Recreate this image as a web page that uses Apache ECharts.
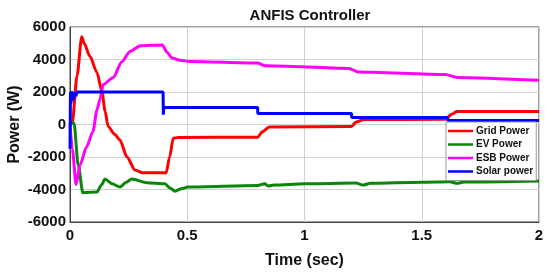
<!DOCTYPE html>
<html>
<head>
<meta charset="utf-8">
<script src="https://cdn.jsdelivr.net/npm/echarts@6/dist/echarts.min.js"></script>
<style>
  html, body { margin: 0; padding: 0; background: #fff; }
  #chart { width: 550px; height: 275px; }
</style>
</head>
<body>
<div id="chart"></div>
<script>
// [time (s), power (W)]
const gridPower = [
  [0, 0], [0.01, 150], [0.03, 3000], [0.05, 5400], [0.06, 5000], [0.085, 4200],
  [0.115, 3200], [0.136, 2050], [0.15, 800], [0.162, -100], [0.19, -600],
  [0.213, -950], [0.243, -2000], [0.277, -2800], [0.31, -2970], [0.41, -2970],
  [0.425, -2000], [0.44, -850], [0.46, -800], [0.8, -780], [0.82, -450],
  [0.85, -150], [1.2, -120], [1.22, 150], [1.25, 300], [1.6, 320],
  [1.63, 650], [1.65, 800], [2, 800]
];
const evPower = [
  [0, 0], [0.017, 100], [0.035, -2500], [0.055, -4200], [0.115, -4150],
  [0.135, -3700], [0.149, -3350], [0.18, -3650], [0.213, -3850], [0.24, -3550],
  [0.264, -3350], [0.328, -3580], [0.405, -3650], [0.425, -3900], [0.448, -4100],
  [0.475, -3950], [0.503, -3850], [0.8, -3750], [0.83, -3650], [0.845, -3780],
  [0.87, -3720], [1.0, -3650], [1.22, -3600], [1.25, -3730], [1.28, -3620],
  [1.5, -3550], [1.62, -3520], [1.65, -3620], [1.68, -3540], [2, -3470]
];
const esbPower = [
  [0, 0], [0.01, -1500], [0.026, -3700], [0.043, -2480], [0.07, -1400],
  [0.098, -430], [0.115, 900], [0.128, 1550], [0.141, 2450], [0.185, 2900],
  [0.22, 3850], [0.256, 4500], [0.3, 4850], [0.395, 4900], [0.4, 4750],
  [0.413, 4450], [0.435, 4100], [0.47, 3950], [0.51, 3880], [0.8, 3780],
  [0.83, 3620], [1.19, 3450], [1.23, 3230], [1.6, 3080], [1.65, 2900], [2, 2720]
];
const solarPower = [
  [0, -1500], [0.002, 2000], [0.004, 1300], [0.006, 2050], [0.009, 1450],
  [0.012, 1950], [0.016, 1550], [0.02, 2000], [0.025, 1750], [0.03, 2000],
  [0.397, 2000], [0.398, 600], [0.4, 1050], [0.8, 1050], [0.801, 680],
  [1.2, 680], [1.202, 430], [1.61, 430], [1.612, 250], [2, 250]
];
const seriesNames = ['Grid Power', 'EV Power', 'ESB Power', 'Solar power'];
const seriesColors = ['#ff0000', '#0a860a', '#ff00ff', '#0000ff'];
const xTicks = ['0', '0.5', '1', '1.5', '2'];

const chart = echarts.init(document.getElementById('chart'));
const font = 'Arial, "Liberation Sans", sans-serif';

chart.setOption({
  animation: false,
  title: {
    text: 'ANFIS Controller',
    left: 305, top: 3, textAlign: 'center',
    textStyle: { fontFamily: font, fontWeight: 'bold', fontSize: 15, color: '#111' }
  },
  grid: {
    left: 70, right: 11, top: 27, bottom: 53,
    outerBoundsMode: 'none',
    show: true, borderColor: '#444', borderWidth: 1
  },
  legend: {
    data: seriesNames,
    orient: 'vertical',
    left: 446, top: 122,
    backgroundColor: '#fff',
    borderColor: '#999', borderWidth: 1, borderRadius: 0,
    padding: [4, 3, 4, 2],
    itemGap: 3.5,
    itemWidth: 25, itemHeight: 11,
    icon: 'path://M0,5 L25,5 L25,7.5 L0,7.5 Z',
    textStyle: { fontFamily: font, fontWeight: 'bold', fontSize: 10, color: '#111', padding: [0, 0, 0, -2] }
  },
  xAxis: {
    type: 'value', min: 0, max: 2, interval: 0.5,
    name: 'Time (sec)', nameLocation: 'middle', nameGap: 31,
    nameTextStyle: { fontFamily: font, fontWeight: 'bold', fontSize: 16, color: '#111' },
    axisLine: { onZero: false, lineStyle: { color: '#444' } },
    axisTick: { show: false },
    axisLabel: {
      fontFamily: font, fontWeight: 'bold', fontSize: 15, color: '#111', margin: 6,
      formatter: v => xTicks[Math.round(v / 0.5)]
    },
    splitLine: { lineStyle: { color: '#d0d0d0' } }
  },
  yAxis: {
    type: 'value', min: -6000, max: 6000, interval: 2000,
    name: 'Power (W)', nameLocation: 'middle', nameGap: 47,
    nameMoveOverlap: false,
    nameTextStyle: { fontFamily: font, fontWeight: 'bold', fontSize: 16, color: '#111' },
    axisLine: { show: true, lineStyle: { color: '#444' } },
    axisTick: { show: false },
    axisLabel: {
      fontFamily: font, fontWeight: 'bold', fontSize: 15, color: '#111', margin: 4,
      formatter: v => String(v)
    },
    splitLine: { lineStyle: { color: '#d0d0d0' } }
  },
  series: [gridPower, evPower, esbPower, solarPower].map((d, i) => ({
    name: seriesNames[i],
    type: 'line',
    data: d,
    showSymbol: false,
    smooth: i === 3 ? false : 0.25,
    smoothMonotone: 'x',
    lineStyle: { color: seriesColors[i], width: 3 },
    itemStyle: { color: seriesColors[i] }
  }))
});
</script>
</body>
</html>
